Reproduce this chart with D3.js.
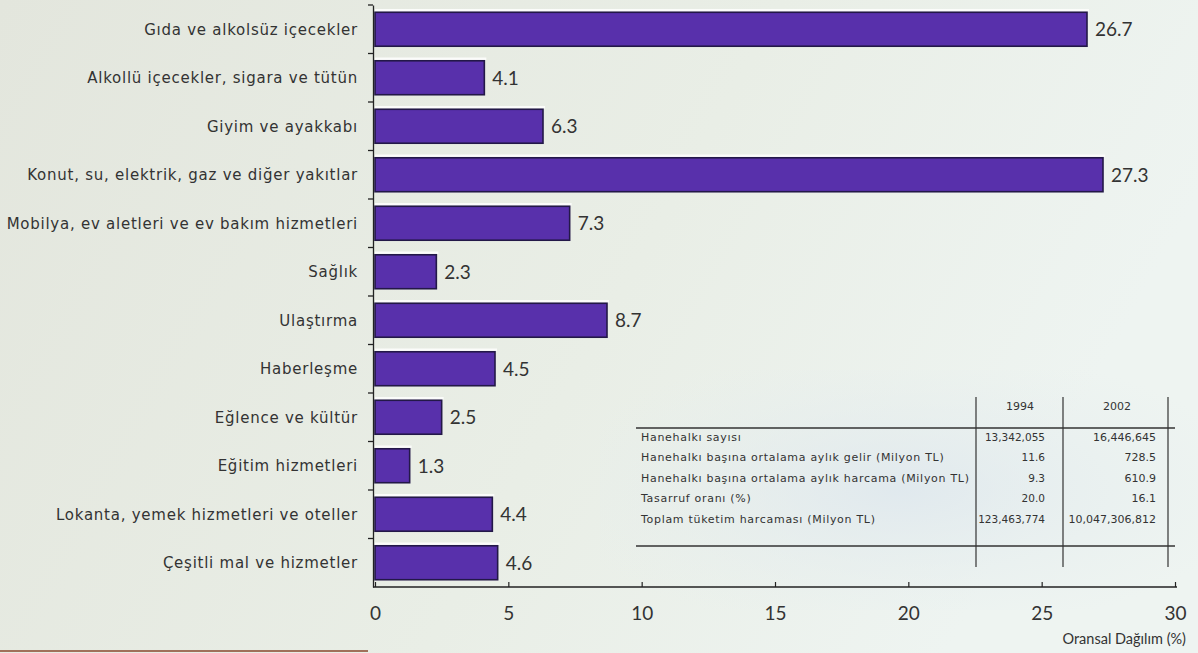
<!DOCTYPE html>
<html><head><meta charset="utf-8">
<script src="https://cdn.jsdelivr.net/npm/d3@7"></script>
<style>body{margin:0;background:#e8ebe3;}svg{display:block;font-family:"Lato","DejaVu Sans",sans-serif;}</style>
</head><body>
<svg id="c" width="1198" height="653"></svg>
<script>
const categories = ["Gıda ve alkolsüz içecekler","Alkollü içecekler, sigara ve tütün","Giyim ve ayakkabı","Konut, su, elektrik, gaz ve diğer yakıtlar","Mobilya, ev aletleri ve ev bakım hizmetleri","Sağlık","Ulaştırma","Haberleşme","Eğlence ve kültür","Eğitim hizmetleri","Lokanta, yemek hizmetleri ve oteller","Çeşitli mal ve hizmetler"];
const values = [26.7,4.1,6.3,27.3,7.3,2.3,8.7,4.5,2.5,1.3,4.4,4.6];
const xTicks = [0,5,10,15,20,25,30];
const xTitle = "Oransal Dağılım (%)";
const tableHeader = ["1994","2002"];
const tableRows = ["Hanehalkı sayısı","Hanehalkı başına ortalama aylık gelir (Milyon TL)","Hanehalkı başına ortalama aylık harcama (Milyon TL)","Tasarruf oranı (%)","Toplam tüketim harcaması (Milyon TL)"];
const values1994 = ["13,342,055","11.6","9.3","20.0","123,463,774"];
const values2002 = ["16,446,645","728.5","610.9","16.1","10,047,306,812"];

const svg = d3.select("#c");
const defs = svg.append("defs");
const bg = defs.append("linearGradient").attr("id","bg").attr("x1","0").attr("x2","1").attr("y1","0").attr("y2","0.3");
bg.append("stop").attr("offset","0").attr("stop-color","#e3e6dd");
bg.append("stop").attr("offset","0.6").attr("stop-color","#e9eee6");
bg.append("stop").attr("offset","1").attr("stop-color","#eef4f1");
svg.append("rect").attr("width",1198).attr("height",653).attr("fill","url(#bg)");
const tb = defs.append("radialGradient").attr("id","tb").attr("cx","0.5").attr("cy","0.5").attr("r","0.6");
tb.append("stop").attr("offset","0").attr("stop-color","#dfe8ee").attr("stop-opacity",0.9);
tb.append("stop").attr("offset","1").attr("stop-color","#e6eeee").attr("stop-opacity",0);
svg.append("rect").attr("x",600).attr("y",370).attr("width",598).attr("height",240).attr("fill","url(#tb)");

const x = d3.scaleLinear().domain([0,30]).range([375,1175]);
const y = d3.scaleBand().domain(categories).range([5,587]).paddingInner(0.3).paddingOuter(0.15);

// axes
const yAxis = svg.append("g").attr("transform","translate(373,0)")
  .call(d3.axisLeft(y).tickValues([]).tickSizeOuter(0));
yAxis.select(".domain").attr("stroke","#222").attr("stroke-width",1.3);
const gap = y.step()*y.paddingInner()/2;
const tickYs = categories.map(c => y(c) - gap);
svg.append("g").selectAll("line").data(tickYs).join("line")
  .attr("x1",368).attr("x2",373).attr("y1",d=>d).attr("y2",d=>d)
  .attr("stroke","#222").attr("stroke-width",1.3);

const xAxis = svg.append("g").attr("transform","translate(0,587)")
  .call(d3.axisBottom(x).tickValues(xTicks).tickSizeInner(-5).tickSizeOuter(0).tickPadding(20));
xAxis.select(".domain").attr("stroke","#222").attr("stroke-width",1.5).attr("d","M373,0H1177");
xAxis.selectAll(".tick line").attr("stroke","#222").attr("stroke-width",1.2);
xAxis.selectAll(".tick text").attr("font-size",19).attr("fill","#333").attr("font-family","Lato, DejaVu Sans, sans-serif");
svg.append("text").attr("x",1186).attr("y",644).attr("text-anchor","end").attr("font-size",14.5).attr("fill","#333").text(xTitle);

// bars
const bars = svg.append("g");
bars.selectAll("line.hl").data(values).join("line").attr("class","hl")
  .attr("x1",x(0)).attr("x2",(d)=>x(d)+2)
  .attr("y1",(d,i)=>y(categories[i])-2).attr("y2",(d,i)=>y(categories[i])-2)
  .attr("stroke","#fbfcfa").attr("stroke-width",2.5);
bars.selectAll("rect").data(values).join("rect")
  .attr("x",x(0)).attr("y",(d,i)=>y(categories[i]))
  .attr("width",d=>x(d)-x(0)).attr("height",y.bandwidth())
  .attr("fill","#5830ab").attr("stroke","#231848").attr("stroke-width",1.6);
bars.selectAll("text").data(values).join("text")
  .attr("x",d=>x(d)+8).attr("y",(d,i)=>y(categories[i])+y.bandwidth()/2)
  .attr("dy","0.36em").attr("font-size",19).attr("fill","#333")
  .text(d=>d.toFixed(1));

svg.append("g").selectAll("text").data(categories).join("text")
  .attr("x",358).attr("y",d=>y(d)+y.bandwidth()/2).attr("dy","0.35em")
  .attr("text-anchor","end").attr("font-size",15).attr("letter-spacing","0.75px").attr("fill","#333")
  .attr("font-family","DejaVu Sans, sans-serif").text(d=>d);

// table
const t = svg.append("g").attr("fill","#333").attr("font-size",11).attr("font-family","DejaVu Sans, sans-serif");
const rowY = d3.scalePoint().domain(tableRows).range([437,519]);
[976,1063,1168].forEach(xx=>t.append("line").attr("x1",xx).attr("x2",xx).attr("y1",397).attr("y2",567).attr("stroke","#333").attr("stroke-width",1.2));
[428,546].forEach(yy=>t.append("line").attr("x1",636).attr("x2",1175).attr("y1",yy).attr("y2",yy).attr("stroke","#333").attr("stroke-width",1.4));
t.selectAll("text.h").data(tableHeader).join("text").attr("class","h")
  .attr("x",(d,i)=>[1020,1117][i]).attr("y",410).attr("text-anchor","middle").text(d=>d);
t.selectAll("text.r").data(tableRows).join("text").attr("class","r")
  .attr("x",641).attr("y",d=>rowY(d)).attr("dy","0.35em").attr("letter-spacing","0.7px").text(d=>d);
t.selectAll("text.a").data(values1994).join("text").attr("class","a")
  .attr("x",1045).attr("y",(d,i)=>rowY(tableRows[i])).attr("dy","0.35em").attr("text-anchor","end").attr("font-size",10.5).text(d=>d);
t.selectAll("text.b").data(values2002).join("text").attr("class","b")
  .attr("x",1156).attr("y",(d,i)=>rowY(tableRows[i])).attr("dy","0.35em").attr("text-anchor","end").text(d=>d);

svg.append("line").attr("x1",0).attr("x2",368).attr("y1",651).attr("y2",651).attr("stroke","#a0705a").attr("stroke-width",2);
</script>
</body></html>
